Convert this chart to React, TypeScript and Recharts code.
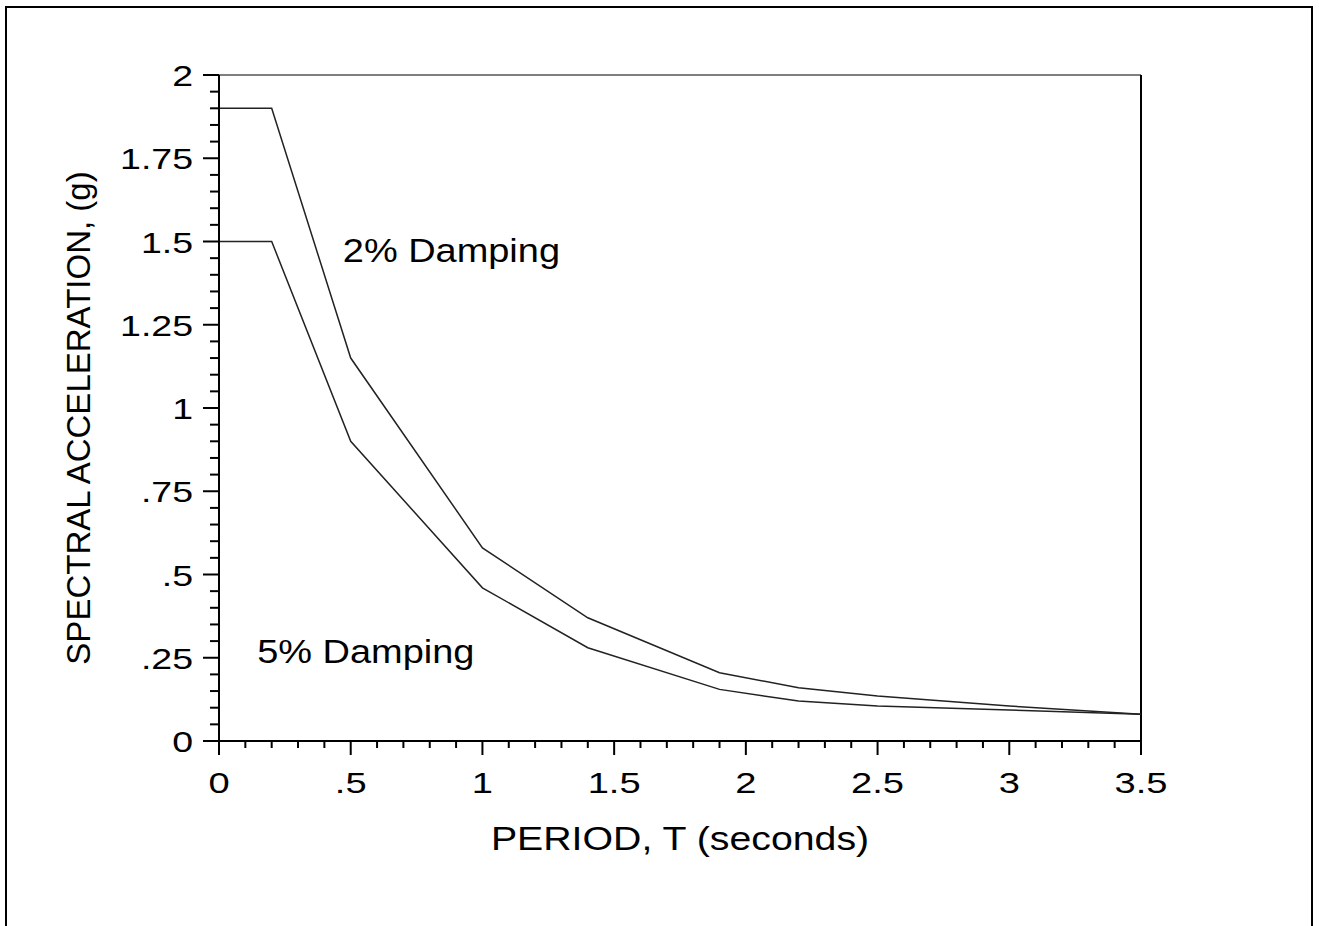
import React from "react";
import {
  LineChart,
  Line,
  XAxis,
  YAxis,
  ReferenceLine,
  ReferenceDot,
} from "recharts";

// period (s) and spectral acceleration (g)
const periods = [0, 0.2, 0.5, 1.0, 1.4, 1.9, 2.2, 2.5, 3.0, 3.5];
const damping2 = [1.9, 1.9, 1.15, 0.58, 0.37, 0.205, 0.16, 0.135, 0.105, 0.08];
const damping5 = [1.5, 1.5, 0.9, 0.46, 0.28, 0.155, 0.12, 0.105, 0.093, 0.08];

// every 0.1 on x, every 0.05 on y (the labelled ones are the majors)
const xTicks = Array.from({ length: 36 }, (_, i) => i / 10);
const yTicks = Array.from({ length: 41 }, (_, i) => i / 20);

const annotations = [
  { text: "2% Damping", period: 0.47, value: 1.475 },
  { text: "5% Damping", period: 0.145, value: 0.27 },
];

const data = periods.map((p, i) => ({
  period: p,
  d2: damping2[i],
  d5: damping5[i],
}));

const FONT = "'Liberation Sans', Arial, sans-serif";

const fmt = (v: number) => (v === 0 ? "0" : String(v).replace(/^0\./, "."));

const XTick = (props: any) => {
  const { x, y, payload } = props;
  const v = payload.value;
  const major = Math.round(v * 10) % 5 === 0;
  return (
    <g>
      <line x1={x} y1={y} x2={x} y2={y + (major ? 14 : 7)} stroke="#000" strokeWidth={2} />
      {major && (
        <text
          transform={`translate(${x},${y + 52}) scale(1.27,1)`}
          textAnchor="middle"
          fontSize={30}
          fontFamily={FONT}
          fill="#000"
        >
          {fmt(v)}
        </text>
      )}
    </g>
  );
};

const YTick = (props: any) => {
  const { x, y, payload } = props;
  const v = payload.value;
  const major = Math.round(v * 100) % 25 === 0;
  return (
    <g>
      <line x1={x - (major ? 16 : 9)} y1={y} x2={x} y2={y} stroke="#000" strokeWidth={2} />
      {major && (
        <text
          transform={`translate(${x - 26},${y + 11}) scale(1.25,1)`}
          textAnchor="end"
          fontSize={30}
          fontFamily={FONT}
          fill="#000"
        >
          {fmt(v)}
        </text>
      )}
    </g>
  );
};

const XTitle = (props: any) => {
  const { viewBox } = props;
  return (
    <text
      transform={`translate(${viewBox.x + viewBox.width / 2},${viewBox.y + 109}) scale(1.19,1)`}
      textAnchor="middle"
      fontSize={33}
      fontFamily={FONT}
      fill="#000"
    >
      PERIOD, T (seconds)
    </text>
  );
};

const YTitle = (props: any) => {
  const { viewBox } = props;
  const cx = viewBox.x + viewBox.width - 141;
  const cy = viewBox.y + viewBox.height / 2 + 10;
  return (
    <text
      transform={`translate(${cx},${cy}) rotate(-90)`}
      textAnchor="middle"
      dominantBaseline="central"
      fontSize={33}
      fontFamily={FONT}
      fill="#000"
    >
      SPECTRAL ACCELERATION, (g)
    </text>
  );
};

const Note = (text: string) => (props: any) => {
  const { viewBox } = props;
  return (
    <text
      transform={`translate(${viewBox.x},${viewBox.y + 12}) scale(1.15,1)`}
      textAnchor="start"
      fontSize={33}
      fontFamily={FONT}
      fill="#000"
    >
      {text}
    </text>
  );
};

export default function App() {
  return (
    <div
      style={{
        position: "absolute",
        left: 0,
        top: 0,
        width: 1319,
        height: 926,
        overflow: "hidden",
        background: "#fff",
      }}
    >
      <div
        style={{
          position: "absolute",
          left: 5,
          top: 6,
          width: 1304,
          height: 1000,
          border: "2px solid #000",
        }}
      />
      <div style={{ position: "absolute", left: 0, top: 0 }}>
        <LineChart
          width={1319}
          height={926}
          data={data}
          margin={{ top: 75, right: 178, bottom: 65, left: 99 }}
        >
          <XAxis
            dataKey="period"
            type="number"
            domain={[0, 3.5]}
            ticks={xTicks}
            interval={0}
            height={120}
            tickSize={0}
            tickMargin={0}
            tickLine={false}
            tick={<XTick />}
            axisLine={{ stroke: "#000", strokeWidth: 2 }}
            label={<XTitle />}
          />
          <YAxis
            type="number"
            domain={[0, 2]}
            ticks={yTicks}
            interval={0}
            width={120}
            tickSize={0}
            tickMargin={0}
            tickLine={false}
            tick={<YTick />}
            axisLine={{ stroke: "#000", strokeWidth: 2 }}
            label={<YTitle />}
          />
          <ReferenceLine y={2} stroke="#555" strokeWidth={1.5} />
          <ReferenceLine x={3.5} stroke="#000" strokeWidth={2} />
          <Line
            dataKey="d2"
            stroke="#222"
            strokeWidth={1.5}
            dot={false}
            isAnimationActive={false}
          />
          <Line
            dataKey="d5"
            stroke="#222"
            strokeWidth={1.5}
            dot={false}
            isAnimationActive={false}
          />
          {annotations.map((a) => (
            <ReferenceDot
              key={a.text}
              x={a.period}
              y={a.value}
              r={0}
              fill="none"
              stroke="none"
              label={Note(a.text)}
            />
          ))}
        </LineChart>
      </div>
    </div>
  );
}
